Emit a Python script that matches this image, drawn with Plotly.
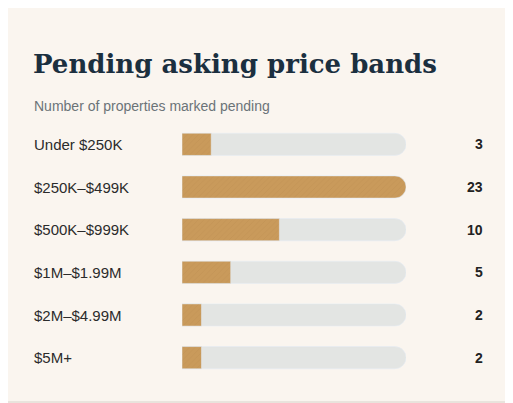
import plotly.graph_objects as go

bands = ["Under $250K", "$250K–$499K", "$500K–$999K", "$1M–$1.99M", "$2M–$4.99M", "$5M+"]
counts = [3, 23, 10, 5, 2, 2]
max_count = max(counts)

W, H = 513, 403
OFF = 8  # page margin offset in the browser
L, R, T, B = 182 - OFF, 107 + OFF, 123 - OFF, 24 + OFF
pw = W - L - R
ph = H - T - B

def px_x(x):
    return (x - OFF - L) / pw

def px_y(y):
    return (H - B - (y - OFF)) / ph

fig = go.Figure()
fig.add_trace(go.Bar(
    x=[max_count] * len(bands), y=bands, orientation="h",
    marker=dict(color="#e3e5e3", cornerradius=11),
    width=0.52, hoverinfo="skip"))
fig.add_trace(go.Bar(
    x=counts, y=bands, orientation="h",
    marker=dict(color="#c99a5b", cornerradius=11,
                pattern=dict(shape="/", fgcolor="#b98a4e", size=4, solidity=0.15)),
    width=0.52))

annotations = []
for b, c in zip(bands, counts):
    annotations.append(dict(x=px_x(32), xref="paper", y=b, yref="y", text=b,
                            xanchor="left", showarrow=False,
                            font=dict(size=15, color="#2b2b2b", family="Liberation Sans")))
    annotations.append(dict(x=px_x(485), xref="paper", y=b, yref="y", text=f"<b>{c}</b>",
                            xanchor="right", showarrow=False,
                            font=dict(size=14, color="#222", family="Liberation Sans")))
annotations.append(dict(x=px_x(31), xref="paper", y=px_y(47), yref="paper",
                        text="<b>Pending asking price bands</b>", xanchor="left", showarrow=False,
                        font=dict(size=26, color="#1b2f3f", family="DejaVu Serif")))
annotations.append(dict(x=px_x(32), xref="paper", y=px_y(96), yref="paper",
                        text="Number of properties marked pending", xanchor="left", showarrow=False,
                        font=dict(size=14, color="#6b7378", family="Liberation Sans")))

fig.update_layout(
    width=W, height=H, barmode="overlay", showlegend=False,
    margin=dict(l=L, r=R, t=T, b=B),
    paper_bgcolor="#faf5ef", plot_bgcolor="rgba(0,0,0,0)",
    xaxis=dict(range=[0, max_count], visible=False, fixedrange=True),
    yaxis=dict(autorange="reversed", visible=False, fixedrange=True),
    annotations=annotations,
    shapes=[dict(type="rect", xref="paper", yref="paper",
                 x0=px_x(1), x1=px_x(W - 1), y0=px_y(1), y1=px_y(H - 1),
                 line=dict(color="#d8d2ca", width=1), layer="below")],
)
fig.write_html("out.html", config={"displayModeBar": False})
